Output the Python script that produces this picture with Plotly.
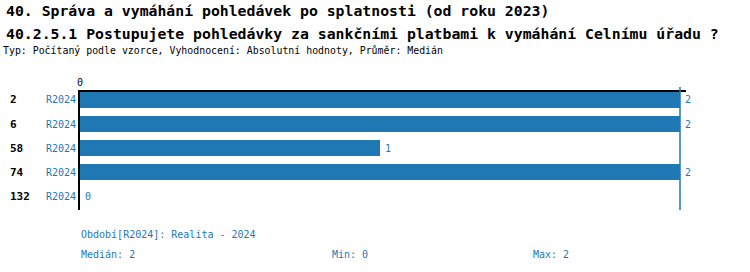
import plotly.graph_objects as go

row_labels = ["2", "6", "58", "74", "132"]
series_labels = ["R2024", "R2024", "R2024", "R2024", "R2024"]
values = [2, 2, 1, 2, 0]
median_val = 2
min_val = 0
max_val = 2

title1 = "40. Správa a vymáhání pohledávek po splatnosti (od roku 2023)"
title2 = "40.2.5.1 Postupujete pohledávky za sankčními platbami k vymáhání Celnímu úřadu ?"
subtitle = "Typ: Počítaný podle vzorce, Vyhodnocení: Absolutní hodnoty, Průměr: Medián"
period_text = "Období[R2024]: Realita - 2024"

BLUE = "#1f77b4"
FONT = "DejaVu Sans Mono"

W, H = 750, 272
L, R, T, B = 80, 64, 92, 62
PW = W - L - R
PH = H - T - B

def px_x(px):
    return (px - L) / PW

def px_y(py):
    return 1 - (py - T) / PH

ys = list(range(len(values)))

fig = go.Figure()
fig.add_trace(go.Bar(
    x=values, y=ys, orientation="h", width=0.67,
    marker=dict(color=BLUE, line=dict(width=0)),
    hoverinfo="skip",
))

ann = []
for i, (rl, sl, v) in enumerate(zip(row_labels, series_labels, values)):
    ann.append(dict(x=px_x(8), xref="paper", y=i, yref="y", text=rl, showarrow=False,
                    xanchor="left", yanchor="middle",
                    font=dict(family=FONT, size=11, color="black", weight="bold")))
    ann.append(dict(x=px_x(78), xref="paper", y=i, yref="y", text=sl, showarrow=False,
                    xanchor="right", yanchor="middle",
                    font=dict(family=FONT, size=10, color=BLUE)))
    ann.append(dict(x=v, xref="x", y=i, yref="y", text=str(v), showarrow=False,
                    xanchor="left", yanchor="middle", xshift=3,
                    font=dict(family=FONT, size=10, color=BLUE)))

ann += [
    dict(x=px_x(4), xref="paper", y=px_y(10), yref="paper", text=title1, showarrow=False,
         xanchor="left", yanchor="middle",
         font=dict(family=FONT, size=14.8, color="black", weight="bold")),
    dict(x=px_x(4), xref="paper", y=px_y(33), yref="paper", text=title2, showarrow=False,
         xanchor="left", yanchor="middle",
         font=dict(family=FONT, size=14.8, color="black", weight="bold")),
    dict(x=px_x(1), xref="paper", y=px_y(50), yref="paper", text=subtitle, showarrow=False,
         xanchor="left", yanchor="middle",
         font=dict(family=FONT, size=9.9, color="black")),
    dict(x=px_x(79), xref="paper", y=px_y(234), yref="paper", text=period_text, showarrow=False,
         xanchor="left", yanchor="middle",
         font=dict(family=FONT, size=10, color=BLUE)),
    dict(x=px_x(79), xref="paper", y=px_y(254), yref="paper", text=f"Medián: {median_val}", showarrow=False,
         xanchor="left", yanchor="middle",
         font=dict(family=FONT, size=10, color=BLUE)),
    dict(x=px_x(330), xref="paper", y=px_y(254), yref="paper", text=f"Min: {min_val}", showarrow=False,
         xanchor="left", yanchor="middle",
         font=dict(family=FONT, size=10, color=BLUE)),
    dict(x=px_x(531), xref="paper", y=px_y(254), yref="paper", text=f"Max: {max_val}", showarrow=False,
         xanchor="left", yanchor="middle",
         font=dict(family=FONT, size=10, color=BLUE)),
]

fig.add_shape(type="line", x0=median_val, x1=median_val, xref="x",
              y0=0, y1=1 + 5 / PH, yref="paper",
              line=dict(color=BLUE, width=1.5))

fig.update_layout(
    width=W, height=H,
    margin=dict(l=L, r=R, t=T, b=B, autoexpand=False),
    paper_bgcolor="white", plot_bgcolor="white",
    showlegend=False,
    annotations=ann,
    bargap=0,
    xaxis=dict(range=[0, 2.02], side="top", tickvals=[0], ticktext=["0"],
               showgrid=False, zeroline=False, showline=True, linecolor="black", linewidth=2,
               ticks="", tickfont=dict(family=FONT, size=10, color="black"), fixedrange=True),
    yaxis=dict(range=[4.583, -0.333], showticklabels=False, showgrid=False, zeroline=False,
               showline=True, linecolor="black", linewidth=2, ticks="", fixedrange=True),
)

fig.write_html("out.html")
